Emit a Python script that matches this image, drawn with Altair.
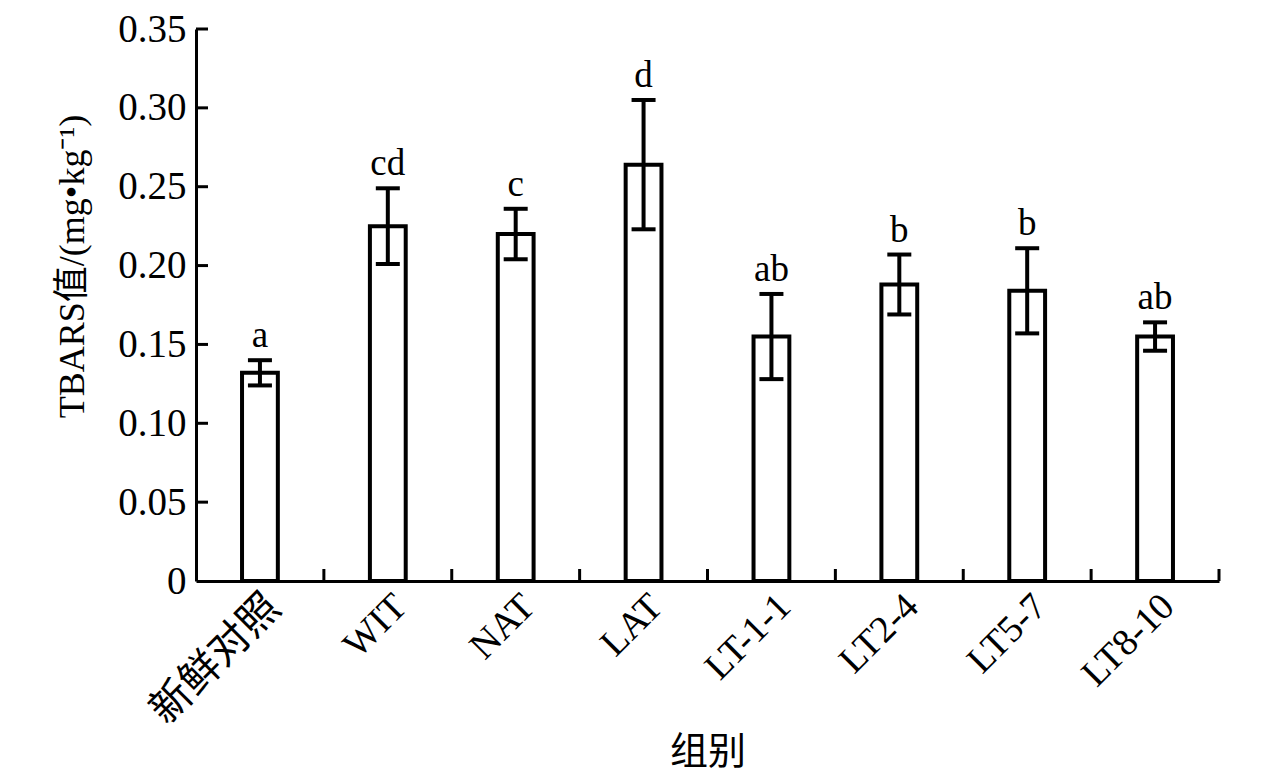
import altair as alt
import pandas as pd

groups = ['新鲜对照', 'WIT', 'NAT', 'LAT', 'LT-1-1', 'LT2-4', 'LT5-7', 'LT8-10']
means = [0.132, 0.225, 0.220, 0.264, 0.155, 0.188, 0.184, 0.155]
errs = [0.008, 0.024, 0.016, 0.041, 0.027, 0.019, 0.027, 0.009]
letters = ['a', 'cd', 'c', 'd', 'ab', 'b', 'b', 'ab']
yticks = [0.05, 0.10, 0.15, 0.20, 0.25, 0.30, 0.35]

FONT = 'Liberation Serif, Times New Roman, Noto Sans CJK SC'
W, H = 1023, 552
step = W / len(groups)

df = pd.DataFrame({
    'group': groups,
    'mean': means,
    'lo': [m - e for m, e in zip(means, errs)],
    'hi': [m + e for m, e in zip(means, errs)],
    'letter': letters,
})
tick_df = pd.DataFrame({'v': yticks})

xscale = alt.Scale(domain=groups, paddingInner=0.72, paddingOuter=0.36)
yscale = alt.Scale(domain=[0, 0.35], nice=False)

x_axis = alt.Axis(title='组别', labelAngle=-45, labelAlign='right',
                  labelBaseline='top',
                  labelFontSize={'condition': {'test': "datum.value === '新鲜对照'", 'value': 41},
                                 'value': 38},
                  labelFont=FONT, titleFont=FONT, titleFontSize=38,
                  titleFontWeight='normal', tickSize=0, labelPadding=6,
                  domainColor='black', domainWidth=3,
                  labelColor='black', titleColor='black',
                  titleY=171, titleBaseline='middle')
y_axis = alt.Axis(title='TBARS值/(mg•kg⁻¹)', values=[0] + yticks,
                  labelExpr="datum.value == 0 ? '0' : format(datum.value, '.2f')",
                  labelFontSize=39, labelFont=FONT, titleFont=FONT,
                  titleFontSize=36, titleFontWeight='normal', tickSize=0,
                  labelPadding=10, domainColor='black', domainWidth=3,
                  labelColor='black', titleColor='black', titlePadding=26,
                  titleY=237, grid=False)

X = alt.X('group:N', sort=groups, scale=xscale, axis=x_axis)


def Y(field):
    return alt.Y(field, scale=yscale, axis=y_axis)


bars = alt.Chart(df).mark_bar(fill='white', stroke='black', strokeWidth=4).encode(
    x=X, y=Y('mean:Q'))

err_rule = alt.Chart(df).mark_rule(color='black', strokeWidth=4).encode(
    x=X, y=Y('lo:Q'), y2='hi:Q')
cap_hi = alt.Chart(df).mark_tick(color='black', thickness=4, size=24, opacity=1).encode(
    x=X, y=Y('hi:Q'))
cap_lo = alt.Chart(df).mark_tick(color='black', thickness=4, size=24, opacity=1).encode(
    x=X, y=Y('lo:Q'))
labels = alt.Chart(df).mark_text(font=FONT, fontSize=37, baseline='bottom', dy=-5,
                                 color='black').encode(
    x=X, y=Y('hi:Q'), text='letter:N')

xticks = alt.Chart(df).mark_rule(color='black', strokeWidth=3, xOffset=step / 2).encode(
    x=X, y=alt.value(H), y2=alt.value(H - 12))
yt = alt.Chart(tick_df).mark_rule(color='black', strokeWidth=3).encode(
    y=Y('v:Q'), x=alt.value(0), x2=alt.value(12))

chart = alt.layer(bars, err_rule, cap_hi, cap_lo, labels, xticks, yt).properties(
    width=W, height=H,
    background='white',
    autosize=alt.AutoSizeParams(type='none'),
    padding={'left': 188, 'top': 21, 'right': 45, 'bottom': 195},
).configure_view(strokeWidth=0, stroke='transparent')

chart.save('out.html', embed_options={'renderer': 'svg', 'actions': False})
